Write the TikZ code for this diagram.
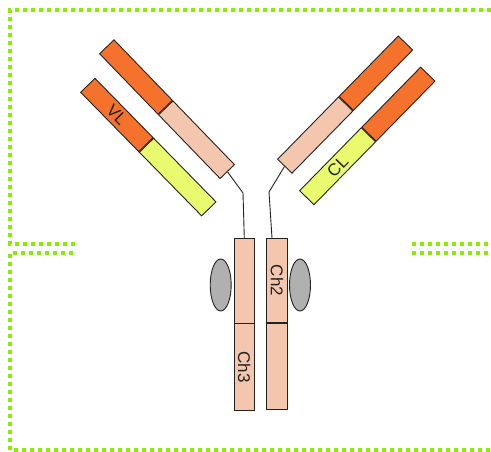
\documentclass[tikz,border=0pt]{standalone}
\usepackage{fontspec}
\setmainfont{Liberation Sans}
\usetikzlibrary{shapes.geometric}
\definecolor{abink}{RGB}{34,34,34}
\definecolor{abvar}{RGB}{245,114,44}
\definecolor{abconst}{RGB}{245,198,174}
\definecolor{ablight}{RGB}{234,250,110}
\definecolor{abglyc}{RGB}{176,176,176}
\definecolor{abframe}{RGB}{138,236,0}

\begin{document}
\begin{tikzpicture}[
  x=1pt, y=-1pt,
  font=\fontsize{17}{17}\selectfont,
  seg/.style={draw=abink, text=abink, line width=0.9pt, minimum height=20pt,
    inner sep=0pt, anchor=west},
  glyc/.style={ellipse, draw=abink, line width=0.9pt, fill=abglyc,
    minimum width=21pt, minimum height=52pt, inner sep=0pt},
  hinge/.style={abink, line width=0.9pt},
  frame/.style={abframe, line width=4pt, dash pattern=on 4pt off 4pt}
]
\useasboundingbox (0,0) rectangle (491,452);

% dotted frame, split in two halves
\draw[frame] (75,244) -- (10,244) -- (10,10) -- (491,10);
\draw[frame] (412,244) -- (491,244);
\draw[frame] (73,253) -- (10,253) -- (10,450) -- (491,450);
\draw[frame] (412,253) -- (491,253);

% left Fab arm
\node[seg, fill=abvar, minimum width=84pt, rotate=-46] (hvl) at (106.5,46.5) {};
\node[seg, fill=abconst, minimum width=88.5pt, rotate=-46] (hcl) at (hvl.east) {};
\node[seg, fill=abvar, minimum width=83pt, rotate=-45.6] (lvl) at (87.5,85) {VL};
\node[seg, fill=ablight, minimum width=89pt, rotate=-45.6] (lcl) at (lvl.east) {};

% right Fab arm (built from the hinge end)
\node[seg, fill=abconst, minimum width=87pt, rotate=45.6] (hcr) at (284.5,166.5) {};
\node[seg, fill=abvar, minimum width=84.5pt, rotate=45.6] (hvr) at (hcr.east) {};
\node[seg, fill=ablight, minimum width=88pt, rotate=45.6] (lcr) at (306.5,198) {CL};
\node[seg, fill=abvar, minimum width=84pt, rotate=45.6] (lvr) at (lcr.east) {};

% Fc stem
\node[seg, fill=abconst, minimum width=84.5pt, minimum height=20.5pt, rotate=-90] (ch2l) at (244.3,238) {};
\node[seg, fill=abconst, minimum width=86.5pt, minimum height=20.5pt, rotate=-90] (ch3l) at (ch2l.east) {Ch3};
\node[seg, fill=abconst, minimum width=84pt, minimum height=20.5pt, rotate=-90] (ch2r) at (277,238) {Ch2};
\node[seg, fill=abconst, minimum width=86.5pt, minimum height=20.5pt, rotate=-90] (ch3r) at (ch2r.east) {};

% sugars
\node[glyc] (gl) at (220.7,285) {};
\node[glyc] (gr) at (300,285) {};

% hinge
\draw[hinge] (hcl.east) -- (243,193) -- (ch2l.west);
\draw[hinge] (hcr.west) -- (269,192) -- ([xshift=-5pt]ch2r.west);
\end{tikzpicture}
\end{document}
